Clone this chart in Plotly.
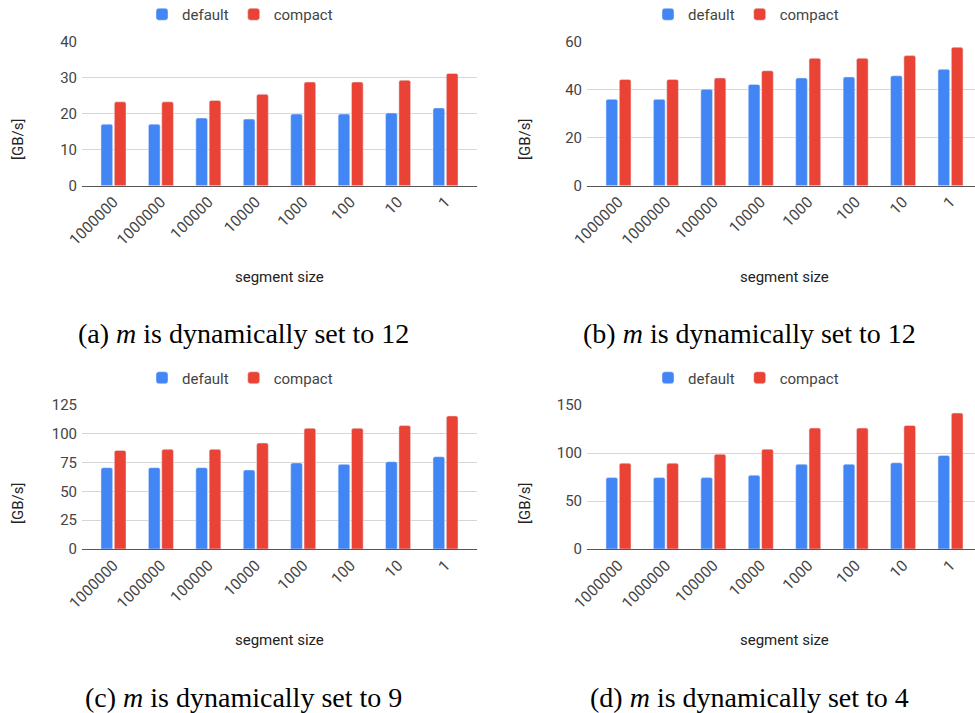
import plotly.graph_objects as go

# Segment sizes along the x axis (the first size appears twice)
sizes = ["1000000", "1000000", "100000", "10000", "1000", "100", "10", "1"]

# Throughput in GB/s for each panel
default_a = [17.1, 17.1, 18.8, 18.5, 19.9, 19.9, 20.2, 21.6]
compact_a = [23.3, 23.3, 23.7, 25.4, 28.8, 28.8, 29.3, 31.2]

default_b = [36.0, 36.0, 40.2, 42.2, 44.9, 45.3, 45.8, 48.5]
compact_b = [44.3, 44.3, 44.9, 47.9, 53.1, 53.1, 54.2, 57.7]

default_c = [70.6, 70.6, 70.6, 68.6, 74.7, 73.5, 75.8, 80.1]
compact_c = [85.6, 86.5, 86.5, 92.0, 104.8, 104.8, 107.1, 115.5]

default_d = [74.4, 74.4, 74.4, 76.9, 88.4, 88.4, 89.8, 97.4]
compact_d = [89.4, 89.4, 98.8, 104.0, 126.0, 126.0, 128.7, 141.6]

y_max = [40, 60, 125, 150]
y_step = [10, 20, 25, 50]

captions = [
    "(a) <i>m</i> is dynamically set to 12",
    "(b) <i>m</i> is dynamically set to 12",
    "(c) <i>m</i> is dynamically set to 9",
    "(d) <i>m</i> is dynamically set to 4",
]

W, H = 975, 713
BLUE = "#4285F4"
RED = "#EA4335"
SANS = "Roboto"
SERIF = "Liberation Serif"


def px_x(v):
    return v / W


def px_y(v):
    return 1 - v / H


# panel boxes in pixels: (left, right, top, bottom)
PITCH = 47.43
OFFSET = 0.664
panels = [
    (82, 477, 41.7, 185.7),
    (587, 975, 41.7, 185.7),
    (82, 477, 405.0, 549.0),
    (587, 975, 405.0, 549.0),
]

series = [
    (default_a, compact_a),
    (default_b, compact_b),
    (default_c, compact_c),
    (default_d, compact_d),
]

xs = list(range(len(sizes)))
fig = go.Figure()
annotations = []
layout = {}

for i, ((left, right, top, bottom), (dflt, cmpt)) in enumerate(zip(panels, series)):
    n = "" if i == 0 else str(i + 1)
    leg = "legend" + n
    xa, ya = "x" + n, "y" + n

    fig.add_trace(go.Bar(
        x=xs, y=dflt, name="default", marker=dict(color=BLUE, cornerradius=2),
        xaxis=xa, yaxis=ya, legend=leg, hoverinfo="y",
    ))
    fig.add_trace(go.Bar(
        x=xs, y=cmpt, name="compact", marker=dict(color=RED, cornerradius=2),
        xaxis=xa, yaxis=ya, legend=leg, hoverinfo="y",
    ))

    span = (right - left) / PITCH
    layout["xaxis" + n] = dict(
        domain=[px_x(left), px_x(right)],
        anchor=ya,
        range=[-OFFSET, -OFFSET + span],
        tickmode="array", tickvals=xs, ticktext=sizes,
        tickangle=-45,
        tickfont=dict(family=SANS, size=15.5, color="#444"),
        showgrid=False, zeroline=False,
        showline=True, linecolor="#555", linewidth=1.3,
        ticks="", automargin=False,
        fixedrange=True,
    )
    layout["yaxis" + n] = dict(
        domain=[px_y(bottom), px_y(top)],
        anchor=xa,
        range=[0, y_max[i]],
        tickmode="linear", tick0=0, dtick=y_step[i],
        tickfont=dict(family=SANS, size=15, color="#444"),
        showgrid=True, gridcolor="#d6d6d6", gridwidth=1,
        zeroline=False, showline=False, ticks="",
        ticklabelstandoff=4, automargin=False,
        fixedrange=True,
    )

    plot_cx = left + PITCH * (len(sizes) - 1 + 2 * OFFSET) / 2
    legend_cx = 240 if i % 2 == 0 else 746
    legend_cy = 14.5 if i < 2 else 378.0
    layout[leg] = dict(
        orientation="h",
        x=px_x(legend_cx), xanchor="center",
        y=px_y(legend_cy), yanchor="middle",
        font=dict(family=SANS, size=15, color="#444"),
        bgcolor="rgba(0,0,0,0)",
    )

    # y-axis title
    annotations.append(dict(
        text="[GB/s]", textangle=-90,
        x=px_x(18 if i % 2 == 0 else 525), y=px_y(140 if i < 2 else 504),
        xref="paper", yref="paper", showarrow=False,
        xanchor="center", yanchor="middle",
        font=dict(family=SANS, size=15, color="#222"),
    ))
    # x-axis title
    annotations.append(dict(
        text="segment size",
        x=px_x(plot_cx), y=px_y(277 if i < 2 else 640),
        xref="paper", yref="paper", showarrow=False,
        xanchor="center", yanchor="middle",
        font=dict(family=SANS, size=15, color="#222"),
    ))
    # sub-figure caption
    annotations.append(dict(
        text=captions[i],
        x=px_x(243 if i % 2 == 0 else 749), y=px_y(333 if i < 2 else 697),
        xref="paper", yref="paper", showarrow=False,
        xanchor="center", yanchor="middle",
        font=dict(family=SERIF, size=28, color="#000"),
    ))

fig.update_layout(
    width=W, height=H,
    margin=dict(l=0, r=0, t=0, b=0, autoexpand=False),
    paper_bgcolor="white", plot_bgcolor="white",
    barmode="group", bargap=0.438, bargroupgap=0.124,
    annotations=annotations,
    **layout,
)

fig.write_html("out.html", config={"displayModeBar": False})
